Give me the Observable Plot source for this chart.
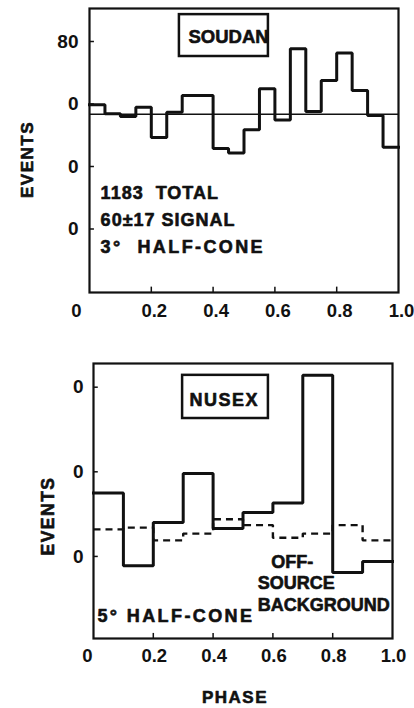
<!DOCTYPE html>
<html>
<head>
<meta charset="utf-8">
<script src="https://cdn.jsdelivr.net/npm/d3@7"></script>
<script src="https://cdn.jsdelivr.net/npm/@observablehq/plot@0.6"></script>
<style>
  html, body { margin: 0; padding: 0; background: #fff; }
  #chart { width: 414px; height: 708px; }
  #chart svg { display: block; }
</style>
</head>
<body>
<div id="chart"></div>
<script>
// ---- data ----
const soudanCounts = [59.8, 56.9, 56.0, 59.0, 49.3, 57.4, 62.7, 62.7, 45.8, 44.3,
                      51.8, 64.9, 54.9, 77.7, 57.6, 67.5, 76.3, 64.3, 56.3, 46.2];
const soudanBackground = 56.7;
const nusexCounts = [17.5, 8.9, 14.0, 19.8, 13.3, 15.2, 16.3, 31.4, 8.1, 9.4];
const nusexOffSource = [13.2, 13.4, 11.9, 12.7, 14.4, 13.7, 12.2, 12.7, 13.7, 11.9];

const xTicks = [0, 0.2, 0.4, 0.6, 0.8, 1.0];
const xTickLabels = ["0", "0.2", "0.4", "0.6", "0.8", "1.0"];
const soudanYTicks = [80, 60, 40, 20];
const soudanYTickLabels = ["80", "0", "0", "0"];
const nusexYTicks = [30, 20, 10];
const nusexYTickLabels = ["0", "0", "0"];

const soudanNotes = ["1183  TOTAL", "60±17 SIGNAL", "3°  HALF-CONE"];
const nusexNotes = ["5° HALF-CONE"];
const offSourceNote = ["OFF-", "SOURCE", "BACKGROUND"];

// step outline: each bin start, plus closing point at phase 1
function steps(counts) {
  const w = 1 / counts.length;
  const pts = counts.map((c, i) => ({phase: i * w, events: c}));
  pts.push({phase: 1, events: counts[counts.length - 1]});
  return pts;
}

const FONT = "'Liberation Sans', Arial, sans-serif";
const baseStyle = {fontFamily: FONT, fontSize: "18px", fontWeight: "bold", color: "#111", background: "#fff", overflow: "visible"};
const ink = "#111";
const txt = {fontWeight: "bold", fill: ink, stroke: ink, strokeWidth: 0.6};
const lineOpts = {x: "phase", y: "events", curve: "step-after", stroke: ink, strokeWidth: 3, strokeLinejoin: "miter", strokeLinecap: "square"};

function xAxes(padding, zeroDx, restDx) {
  const fmt = d => xTickLabels[xTicks.indexOf(d)];
  return [
    Plot.axisX([0], {label: null, tickSize: 0, tickPadding: padding, tickFormat: fmt, dx: zeroDx, fontSize: 18.5, ...txt}),
    Plot.axisX(xTicks.slice(1), {label: null, tickSize: 0, tickPadding: padding, tickFormat: fmt, dx: restDx, fontSize: 18.5, ...txt})
  ];
}

// ---- SOUDAN panel ----
const soudanPlot = Plot.plot({
  width: 414, height: 335,
  marginLeft: 89, marginRight: 16, marginTop: 8, marginBottom: 43,
  style: baseStyle,
  x: {domain: [0, 1], axis: null},
  y: {domain: [-0.32, 90.56], axis: null},
  marks: [
    Plot.ruleY([soudanBackground], {stroke: ink, strokeWidth: 1.6}),
    Plot.line(steps(soudanCounts), lineOpts),
    Plot.ruleY(soudanYTicks, {x1: 0, x2: 0.016, stroke: ink, strokeWidth: 1.5}),
    Plot.ruleX(xTicks.slice(1, 5), {y1: -0.32, y2: 1.4, stroke: ink, strokeWidth: 1.5}),
    Plot.frame({stroke: ink, strokeWidth: 2.2}),
    Plot.axisY(soudanYTicks, {label: null, tickSize: 0, tickPadding: 11, tickFormat: (d, i) => soudanYTickLabels[i], fontSize: 19, ...txt}),
    ...xAxes(11, -13, 3),
    Plot.rect([0], {x1: 0.291, x2: 0.579, y1: 75.2, y2: 88.6, stroke: ink, strokeWidth: 2.5, fill: "none"}),
    Plot.text(["SOUDAN"], {x: 0.45, y: 81.3, text: d => d, fontSize: 18.5, ...txt}),
    Plot.text([soudanNotes[0]], {x: 0.036, y: 31.4, text: d => d, textAnchor: "start", fontSize: 18, ...txt}),
    Plot.text([soudanNotes[1]], {x: 0.036, y: 22.7, text: d => d, textAnchor: "start", fontSize: 18, ...txt}),
    Plot.text([soudanNotes[2]], {x: 0.036, y: 14.1, text: d => d, textAnchor: "start", fontSize: 18, ...txt}),
    Plot.text(["EVENTS"], {frameAnchor: "left", textAnchor: "middle", lineAnchor: "middle", text: d => d, rotate: -90, dx: -62, dy: 9, fontSize: 17, ...txt})
  ]
});

// ---- NUSEX panel ----
const nusexPlot = Plot.plot({
  width: 414, height: 373,
  marginLeft: 93, marginRight: 22, marginTop: 28, marginBottom: 70,
  style: baseStyle,
  x: {domain: [0, 1], axis: null},
  y: {domain: [0.3, 32.8], axis: null},
  marks: [
    Plot.line(steps(nusexOffSource), {...lineOpts, strokeWidth: 2.4, strokeDasharray: "7,5", strokeLinecap: "butt"}),
    Plot.line(steps(nusexCounts), lineOpts),
    Plot.ruleY(nusexYTicks, {x1: 0, x2: 0.016, stroke: ink, strokeWidth: 1.5}),
    Plot.ruleX(xTicks.slice(1, 5), {y1: 0.3, y2: 0.9, stroke: ink, strokeWidth: 1.5}),
    Plot.frame({stroke: ink, strokeWidth: 2.2}),
    Plot.axisY(nusexYTicks, {label: null, tickSize: 0, tickPadding: 10, tickFormat: (d, i) => nusexYTickLabels[i], fontSize: 19, ...txt}),
    ...xAxes(10, -6, 1),
    Plot.rect([0], {x1: 0.298, x2: 0.585, y1: 26.3, y2: 31.4, stroke: ink, strokeWidth: 2.5, fill: "none"}),
    Plot.text(["NUSEX"], {x: 0.437, y: 28.5, text: d => d, fontSize: 18, ...txt}),
    Plot.text(nusexNotes, {x: 0.013, y: 2.9, text: d => d, textAnchor: "start", fontSize: 18, ...txt}),
    Plot.text([offSourceNote[0]], {x: 0.665, y: 9.3, text: d => d, fontSize: 18, ...txt}),
    Plot.text([offSourceNote[1]], {x: 0.678, y: 6.8, text: d => d, fontSize: 18, ...txt}),
    Plot.text([offSourceNote[2]], {x: 0.77, y: 4.2, text: d => d, fontSize: 18, ...txt}),
    Plot.text(["EVENTS"], {frameAnchor: "left", textAnchor: "middle", lineAnchor: "middle", text: d => d, rotate: -90, dx: -45.5, dy: 15, fontSize: 17.5, ...txt}),
    Plot.text(["PHASE"], {frameAnchor: "bottom", textAnchor: "middle", lineAnchor: "middle", text: d => d, dx: -8, dy: 59, fontSize: 17, ...txt})
  ]
});

const chart = document.getElementById("chart");
chart.append(soudanPlot, nusexPlot);

// letter spacing tweaks to match the wide lettering
d3.select(chart).selectAll("text").each(function() {
  const t = this.textContent;
  const s = d3.select(this);
  if (t.includes("HALF-CONE")) s.style("letter-spacing", "2.4px");
  else if (t === "EVENTS" || t === "PHASE") s.style("letter-spacing", "1.5px");
  else if (t.includes("TOTAL") || t.includes("SIGNAL")) s.style("letter-spacing", "1px");
  else if (t === "NUSEX") s.style("letter-spacing", "1.5px");
});
</script>
</body>
</html>
